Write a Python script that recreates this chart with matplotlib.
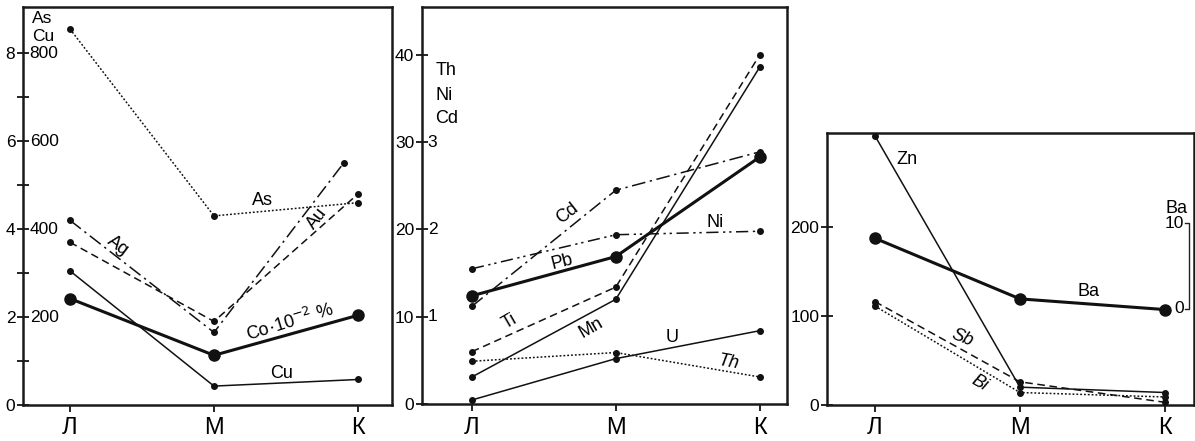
import matplotlib
matplotlib.use("Agg")
import matplotlib.pyplot as plt
import matplotlib.transforms as mtransforms

plt.rcParams['font.family'] = ['Liberation Sans', 'DejaVu Sans']

# ---------------- data ----------------
categories = ['Л', 'М', 'К']
cat_x = [0, 1, 2]

# Panel 1 (left scale 0-9; inner scale As, Cu 0-900)
as_vals = [8.55, 4.3, 4.6]
ag_vals = [4.2, 1.65, 5.5]
ag_x = [0, 1, 1.9]
au_vals = [3.7, 1.9, 4.8]
co_vals = [2.42, 1.13, 2.04]
cu_vals = [3.05, 0.43, 0.58]
p1_outer_ticks = [0, 2, 4, 6, 8]
p1_minor_ticks = [1, 3, 5, 7]
p1_inner_ticks = [2, 4, 6, 8]
p1_inner_labels = ['200', '400', '600', '800']

# Panel 2 (left scale 0-45; inner scale Th, Ni, Cd 0-4)
mn_vals = [3.1, 12.0, 38.6]
ti_vals = [6.0, 13.4, 40.0]
pb_vals = [12.4, 16.9, 28.3]
cd_vals = [11.2, 24.5, 28.9]
ni_vals = [15.5, 19.4, 19.8]
u_vals = [0.46, 5.2, 8.4]
th_vals = [4.9, 5.9, 3.1]
p2_outer_ticks = [0, 10, 20, 30, 40]
p2_inner_ticks = [10, 20, 30]
p2_inner_labels = ['1', '2', '3']

# Panel 3 (left scale 0-300; Ba on a right scale 0-10)
zn_vals = [302, 20, 14]
ba_vals = [187, 119, 107]
sb_vals = [116, 26, 3]
bi_vals = [111, 14, 9]
p3_ticks = [0, 100, 200]
ba_scale_pos = [108, 204]
ba_scale_labels = ['0', '10']

# ---------------- figure ----------------
W, H = 1195, 441
fig = plt.figure(figsize=(W / 100, H / 100), dpi=100)

def px_axes(left, top, right, bottom):
    return fig.add_axes([left / W, 1 - bottom / H, (right - left) / W, (bottom - top) / H])

ax1 = px_axes(23, 7, 392, 405)
ax2 = px_axes(422, 7, 787, 404)
ax3 = px_axes(827, 133, 1194, 405)

LC = '#111111'
thin = 1.1
thick = 2.2
dotted = (0, (1.2, 1.3))
dashed = (0, (5, 3))
dashdot = (0, (9, 3, 1.5, 3))
dashdotdot = (0, (8, 3, 1.5, 2.5, 1.5, 3))

def style(ax, xlim, ylim):
    ax.set_xlim(*xlim)
    ax.set_ylim(*ylim)
    for s in ax.spines.values():
        s.set_linewidth(1.8)
        s.set_color('#1a1a1a')
    ax.set_xticks(cat_x)
    ax.set_xticklabels(categories, fontsize=17)
    ax.tick_params(axis='x', direction='out', length=5, width=1.2, pad=4)
    ax.tick_params(axis='y', direction='inout', length=9, width=1.2, labelsize=12.5, pad=1)

def line(ax, x, y, ls, lw=thin, ms=4):
    ax.plot(x, y, color=LC, lw=lw, ls=ls, marker='o', ms=ms, mfc=LC, mec=LC, zorder=3)

# ----- panel 1 -----
style(ax1, (-0.326, 2.236), (0, 9.05))
ax1.set_yticks(p1_outer_ticks)
ax1.set_yticks(p1_minor_ticks, minor=True)
ax1.tick_params(axis='y', which='minor', direction='inout', length=8, width=1.2)
line(ax1, cat_x, as_vals, dotted)
line(ax1, ag_x, ag_vals, dashdot)
line(ax1, cat_x, au_vals, dashed)
line(ax1, cat_x, co_vals, '-', lw=thick, ms=8)
line(ax1, cat_x, cu_vals, '-')
tr1 = mtransforms.blended_transform_factory(ax1.transAxes, ax1.transData)
for v, lab in zip(p1_inner_ticks, p1_inner_labels):
    ax1.text(0.018, v, lab, transform=tr1, ha='left', va='center', fontsize=12.5)
ax1.text(0.025, 0.970, 'As', transform=ax1.transAxes, ha='left', va='center', fontsize=12.5)
ax1.text(0.025, 0.926, 'Cu', transform=ax1.transAxes, ha='left', va='center', fontsize=12.5)
ax1.text(1.34, 4.66, 'As', ha='center', va='center', fontsize=13)
ax1.text(0.33, 3.62, 'Ag', ha='center', va='center', fontsize=13, rotation=-37)
ax1.text(1.72, 4.25, 'Au', ha='center', va='center', fontsize=13, rotation=52)
ax1.text(1.53, 1.88, 'Co·10$^{-2}$ %', ha='center', va='center', fontsize=13, rotation=17)
ax1.text(1.47, 0.72, 'Cu', ha='center', va='center', fontsize=13)

# ----- panel 2 -----
style(ax2, (-0.347, 2.19), (0, 45.5))
ax2.set_yticks(p2_outer_ticks)
line(ax2, cat_x, mn_vals, '-')
line(ax2, cat_x, ti_vals, dashed)
line(ax2, cat_x, pb_vals, '-', lw=thick, ms=8)
line(ax2, cat_x, cd_vals, dashdot)
line(ax2, cat_x, ni_vals, dashdotdot)
line(ax2, cat_x, u_vals, '-')
line(ax2, cat_x, th_vals, dotted)
tr2 = mtransforms.blended_transform_factory(ax2.transAxes, ax2.transData)
for v, lab in zip(p2_inner_ticks, p2_inner_labels):
    ax2.text(0.016, v, lab, transform=tr2, ha='left', va='center', fontsize=12.5)
for yy, lab in zip([0.841, 0.778, 0.72], ['Th', 'Ni', 'Cd']):
    ax2.text(0.036, yy, lab, transform=ax2.transAxes, ha='left', va='center', fontsize=13)
ax2.text(0.667, 21.9, 'Cd', ha='center', va='center', fontsize=13, rotation=38)
ax2.text(1.69, 20.8, 'Ni', ha='center', va='center', fontsize=13)
ax2.text(0.63, 16.3, 'Pb', ha='center', va='center', fontsize=13, rotation=14)
ax2.text(0.26, 9.4, 'Ti', ha='center', va='center', fontsize=13, rotation=30)
ax2.text(0.83, 8.7, 'Mn', ha='center', va='center', fontsize=13, rotation=30)
ax2.text(1.39, 7.6, 'U', ha='center', va='center', fontsize=13)
ax2.text(1.78, 4.8, 'Th', ha='center', va='center', fontsize=13, rotation=-10, style='italic')

# ----- panel 3 -----
style(ax3, (-0.33, 2.2), (0, 305))
ax3.set_yticks(p3_ticks)
line(ax3, cat_x, zn_vals, '-')
line(ax3, cat_x, ba_vals, '-', lw=thick, ms=8)
line(ax3, cat_x, sb_vals, dashed)
line(ax3, cat_x, bi_vals, dotted)
tr3 = mtransforms.blended_transform_factory(ax3.transAxes, ax3.transData)
bx = 0.9875
ax3.plot([bx - 0.013, bx, bx, bx - 0.013],
         [ba_scale_pos[1], ba_scale_pos[1], ba_scale_pos[0], ba_scale_pos[0]],
         transform=tr3, color='#222222', lw=1.0, clip_on=False)
for v, lab in zip(ba_scale_pos, ba_scale_labels):
    ax3.text(bx - 0.016, v, lab, transform=tr3, ha='right', va='center', fontsize=12.5)
ax3.text(bx - 0.005, ba_scale_pos[1] + 16, 'Ba', transform=tr3, ha='right', va='center', fontsize=13)
ax3.text(0.22, 275, 'Zn', ha='center', va='center', fontsize=13)
ax3.text(1.47, 127, 'Ba', ha='center', va='center', fontsize=13)
ax3.text(0.6, 75, 'Sb', ha='center', va='center', fontsize=13, rotation=-22, style='italic')
ax3.text(0.72, 25, 'Bi', ha='center', va='center', fontsize=13, rotation=-30, style='italic')

fig.savefig('out.png', dpi=100)
